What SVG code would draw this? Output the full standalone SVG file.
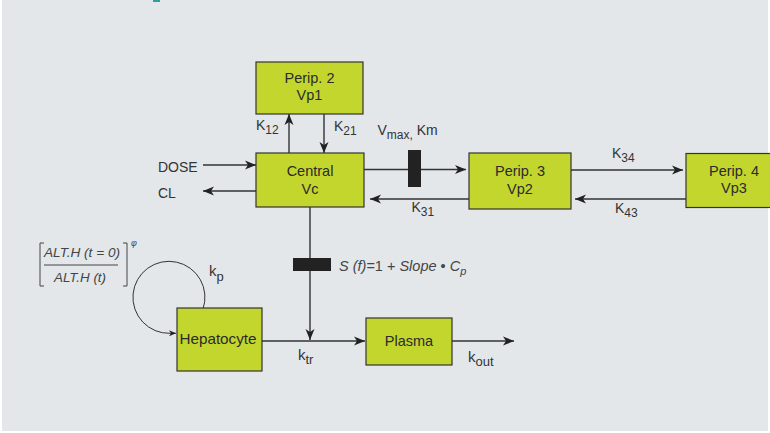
<svg xmlns="http://www.w3.org/2000/svg" width="770" height="433" viewBox="0 0 770 433">
<style>
.box{fill:#c2d62e;stroke:#333;stroke-width:1.2}
.bt{font-family:"Liberation Sans",Arial,sans-serif;font-size:14.5px;fill:#2b2b2b;text-anchor:middle}
.lbl{font-family:"Liberation Sans",Arial,sans-serif;font-size:14px;fill:#333}
.sub{font-size:12px}
.ln{stroke:#333;stroke-width:1.4;fill:none}
.it{font-family:"Liberation Sans",Arial,sans-serif;font-style:italic;fill:#444}
</style>
<defs>
<marker id="ah" markerUnits="userSpaceOnUse" markerWidth="12" markerHeight="10" refX="11" refY="5" orient="auto">
<path d="M0,0.5 L11,5 L0,9.5 L3,5 z" fill="#222"/>
</marker>
<marker id="ahs" markerUnits="userSpaceOnUse" markerWidth="8" markerHeight="6" refX="7" refY="3" orient="auto">
<path d="M0,0 L7,3 L0,6 L2,3 z" fill="#222"/>
</marker>
</defs>
<rect x="0" y="0" width="770" height="433" fill="#ffffff"/>
<rect x="2" y="0" width="766" height="431" fill="#e3e7ea"/>
<rect x="153" y="0" width="7" height="2" fill="#2aa39f"/>

<g id="connectors">
<line class="ln" x1="289" y1="153" x2="289" y2="114" marker-end="url(#ah)"/>
<line class="ln" x1="324" y1="114" x2="324" y2="153" marker-end="url(#ah)"/>
<line class="ln" x1="203" y1="165" x2="256" y2="165" marker-end="url(#ah)"/>
<line class="ln" x1="256" y1="191" x2="203" y2="191" marker-end="url(#ah)"/>
<line class="ln" x1="364" y1="169.5" x2="466" y2="169.5" marker-end="url(#ah)"/>
<line class="ln" x1="469" y1="199" x2="370" y2="199" marker-end="url(#ah)"/>
<line class="ln" x1="571" y1="170" x2="683" y2="170" marker-end="url(#ah)"/>
<line class="ln" x1="686" y1="199" x2="575" y2="199" marker-end="url(#ah)"/>
<line class="ln" x1="310" y1="207" x2="310" y2="340" marker-end="url(#ah)"/>
<line class="ln" x1="262" y1="341" x2="365" y2="341" marker-end="url(#ah)"/>
<line class="ln" x1="452" y1="341" x2="514" y2="341" marker-end="url(#ah)"/>
<path d="M203,309 A36,36 0 1 0 170,333.3 L176,333.3" fill="none" stroke="#333" stroke-width="1" marker-end="url(#ahs)"/>
<rect x="408" y="150" width="13" height="37" fill="#222"/>
<rect x="293" y="258" width="38" height="13" fill="#222"/>
</g>

<g id="perip2">
<rect class="box" x="256" y="62" width="107" height="52"/>
<text class="bt" x="309.5" y="82.5">Perip. 2</text>
<text class="bt" x="309.5" y="100">Vp1</text>
</g>
<g id="central">
<rect class="box" x="256" y="153" width="108" height="54"/>
<text class="bt" x="310" y="176">Central</text>
<text class="bt" x="310" y="193.5">Vc</text>
</g>
<g id="perip3">
<rect class="box" x="469" y="153" width="102" height="56"/>
<text class="bt" x="520" y="176">Perip. 3</text>
<text class="bt" x="520" y="193.5">Vp2</text>
</g>
<g id="perip4">
<rect class="box" x="686" y="153.5" width="96" height="54"/>
<text class="bt" x="734" y="176">Perip. 4</text>
<text class="bt" x="734" y="193">Vp3</text>
</g>
<g id="hepatocyte">
<rect class="box" x="177" y="308" width="85" height="63"/>
<text class="bt" x="218" y="343.5" textLength="77" lengthAdjust="spacingAndGlyphs">Hepatocyte</text>
</g>
<g id="plasma">
<rect class="box" x="366" y="318" width="86" height="47"/>
<text class="bt" x="409" y="346">Plasma</text>
</g>

<g id="labels">
<text class="lbl" x="256" y="130">K<tspan class="sub" dy="4">12</tspan></text>
<text class="lbl" x="334" y="131">K<tspan class="sub" dy="4">21</tspan></text>
<text class="lbl" x="158" y="172" font-size="13">DOSE</text>
<text class="lbl" x="158" y="198" font-size="13">CL</text>
<text class="lbl" x="377.5" y="135">V<tspan class="sub" dy="4">max,</tspan><tspan dy="-4"> Km</tspan></text>
<text class="lbl" x="411.5" y="212">K<tspan class="sub" dy="4">31</tspan></text>
<text class="lbl" x="612" y="158">K<tspan class="sub" dy="4">34</tspan></text>
<text class="lbl" x="615" y="213">K<tspan class="sub" dy="4">43</tspan></text>
<text class="lbl" x="209" y="276" style="font-size:15px">k<tspan style="font-size:13px" dy="5">p</tspan></text>
<text class="lbl" x="298" y="360" style="font-size:15px">k<tspan style="font-size:13px" dy="4">tr</tspan></text>
<text class="lbl" x="468" y="362" style="font-size:15px">k<tspan style="font-size:13px" dy="4">out</tspan></text>
<text class="it" x="339" y="271" font-size="14.5">S (f)<tspan font-style="normal">=1 + </tspan>Slope <tspan font-style="normal">•</tspan> C<tspan font-size="11" dy="4">p</tspan></text>
</g>

<g id="formula">
<path d="M44,243 H40 V286 H44 M123,243 H127 V286 H123" fill="none" stroke="#444" stroke-width="1"/>
<text class="it" x="82" y="257" font-size="12.5" text-anchor="middle" textLength="76" lengthAdjust="spacingAndGlyphs">ALT.H (t = 0)</text>
<line x1="44" y1="265" x2="118" y2="265" stroke="#444" stroke-width="1"/>
<text class="it" x="80" y="281.5" font-size="12.5" text-anchor="middle" textLength="52" lengthAdjust="spacingAndGlyphs">ALT.H (t)</text>
<text class="it" x="131" y="246" font-size="9">φ</text>
</g>
</svg>
